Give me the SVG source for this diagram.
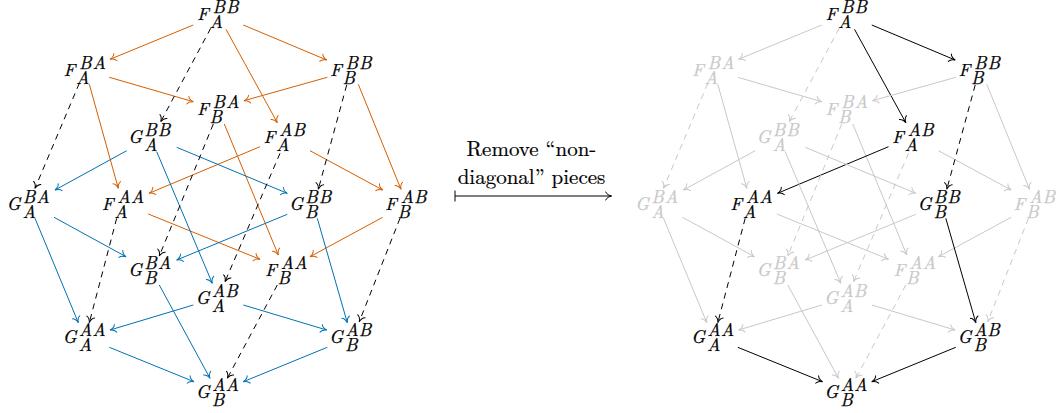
<svg xmlns="http://www.w3.org/2000/svg" width="1059" height="413" viewBox="0 0 1059 413">
<style>
.n{font-family:'Latin Modern Roman';font-style:italic;font-size:18px;fill:#000;stroke:#000;stroke-width:0.25}
.ng .n{fill:#c8c8c8;stroke:#c8c8c8}
.e{fill:none;stroke-width:1}
.o{stroke:#d55e00;marker-end:url(#mo)}
.b{stroke:#0072b2;marker-end:url(#mb)}
.k{stroke:#000;marker-end:url(#mk)}
.g{stroke:#c8c8c8;marker-end:url(#mg)}
.d{stroke-dasharray:6 5}
.lbl{font-family:'Latin Modern Roman';font-size:21px;fill:#000;stroke:#000;stroke-width:0.2;text-anchor:middle}
.tip{fill:none;stroke-width:1;stroke-linecap:round;stroke-dasharray:none}
</style>
<defs>
<marker id="mo" markerUnits="userSpaceOnUse" markerWidth="12" markerHeight="12" refX="0" refY="0" orient="auto" style="overflow:visible"><path class="tip" stroke="#d55e00" d="M-5.8,-4 C-5,-1.7 -1.9,-0.4 0,0 C-1.9,0.4 -5,1.7 -5.8,4"/></marker>
<marker id="mb" markerUnits="userSpaceOnUse" markerWidth="12" markerHeight="12" refX="0" refY="0" orient="auto" style="overflow:visible"><path class="tip" stroke="#0072b2" d="M-5.8,-4 C-5,-1.7 -1.9,-0.4 0,0 C-1.9,0.4 -5,1.7 -5.8,4"/></marker>
<marker id="mk" markerUnits="userSpaceOnUse" markerWidth="12" markerHeight="12" refX="0" refY="0" orient="auto" style="overflow:visible"><path class="tip" stroke="#000" d="M-5.8,-4 C-5,-1.7 -1.9,-0.4 0,0 C-1.9,0.4 -5,1.7 -5.8,4"/></marker>
<marker id="mg" markerUnits="userSpaceOnUse" markerWidth="12" markerHeight="12" refX="0" refY="0" orient="auto" style="overflow:visible"><path class="tip" stroke="#c8c8c8" d="M-5.8,-4 C-5,-1.7 -1.9,-0.4 0,0 C-1.9,0.4 -5,1.7 -5.8,4"/></marker>
</defs>

<!-- LEFT DIAGRAM -->
<g id="left-connectors">
<line class="e o" x1="193.3" y1="25" x2="110" y2="59.3"/>
<line class="e o" x1="243.3" y1="25" x2="326.7" y2="60"/>
<line class="e o" x1="226" y1="29.3" x2="277.3" y2="122.7"/>
<line class="e o" x1="109.3" y1="77.3" x2="193.3" y2="101.7"/>
<line class="e o" x1="89.3" y1="84.3" x2="118.3" y2="188.3"/>
<line class="e o" x1="327.3" y1="77.3" x2="244" y2="100.7"/>
<line class="e o" x1="358.3" y1="84.3" x2="401" y2="189.3"/>
<line class="e o" x1="224.3" y1="124" x2="278.3" y2="255"/>
<line class="e o" x1="260" y1="146.7" x2="149" y2="193.3"/>
<line class="e o" x1="310" y1="150.7" x2="382.7" y2="190"/>
<line class="e o" x1="148.3" y1="214" x2="260" y2="259.3"/>
<line class="e o" x1="382.7" y1="217.3" x2="310" y2="256.7"/>
<line class="e b" x1="126.7" y1="150.7" x2="55" y2="190"/>
<line class="e b" x1="176.7" y1="147.3" x2="287.3" y2="193.3"/>
<line class="e b" x1="156.7" y1="151.7" x2="212.3" y2="283.3"/>
<line class="e b" x1="54" y1="217.3" x2="126" y2="256.7"/>
<line class="e b" x1="35" y1="218.3" x2="78.3" y2="322.7"/>
<line class="e b" x1="287.3" y1="214.3" x2="176.7" y2="260"/>
<line class="e b" x1="317.3" y1="218.3" x2="347.3" y2="322.7"/>
<line class="e b" x1="159.3" y1="285" x2="210" y2="378.3"/>
<line class="e b" x1="193.3" y1="305" x2="110" y2="330"/>
<line class="e b" x1="243.3" y1="305" x2="326.7" y2="330"/>
<line class="e b" x1="109.3" y1="347.3" x2="194" y2="381.7"/>
<line class="e b" x1="327.3" y1="347.3" x2="243.3" y2="381.7"/>
<line class="e k d" x1="210.7" y1="28.3" x2="160.7" y2="121.7"/>
<line class="e k d" x1="79.3" y1="83.3" x2="35" y2="188.3"/>
<line class="e k d" x1="346.7" y1="85" x2="318.3" y2="189.3"/>
<line class="e k d" x1="213.3" y1="124" x2="159.3" y2="256"/>
<line class="e k d" x1="280" y1="153.3" x2="225" y2="281.7"/>
<line class="e k d" x1="116.7" y1="218.3" x2="89.3" y2="322.7"/>
<line class="e k d" x1="400" y1="218.3" x2="359.3" y2="321.7"/>
<line class="e k d" x1="277.3" y1="285" x2="227.3" y2="378.3"/>
</g>

<g id="L-FA-BB"><text class="n" x="197" y="20">F<tspan x="212.5 226" y="13.4">BB</tspan><tspan x="209.5" y="27.7">A</tspan></text></g>
<g id="L-FA-BA"><text class="n" x="63.5" y="76">F<tspan x="79 92.5" y="68.7">BA</tspan><tspan x="76" y="83.7">A</tspan></text></g>
<g id="L-FB-BB"><text class="n" x="330" y="76">F<tspan x="345.5 359" y="68.7">BB</tspan><tspan x="342.5" y="83.7">B</tspan></text></g>
<g id="L-FB-BA"><text class="n" x="197" y="115">F<tspan x="212.5 226" y="107.7">BA</tspan><tspan x="209.5" y="122.7">B</tspan></text></g>
<g id="L-GA-BB"><text class="n" x="128.3" y="143.3">G<tspan x="144.3 157.8" y="136">BB</tspan><tspan x="144" y="151">A</tspan></text></g>
<g id="L-FA-AB"><text class="n" x="263.5" y="143.3">F<tspan x="279 292.5" y="136">AB</tspan><tspan x="276" y="151">A</tspan></text></g>
<g id="L-GA-BA"><text class="n" x="6.7" y="210">G<tspan x="22.7 36.2" y="202.7">BA</tspan><tspan x="22.4" y="217.7">A</tspan></text></g>
<g id="L-FA-AA"><text class="n" x="101.7" y="210">F<tspan x="117.2 130.7" y="202.7">AA</tspan><tspan x="114.2" y="217.7">A</tspan></text></g>
<g id="L-GB-BB"><text class="n" x="289.3" y="210">G<tspan x="305.3 318.8" y="202.7">BB</tspan><tspan x="305" y="217.7">B</tspan></text></g>
<g id="L-FB-AB"><text class="n" x="385" y="210">F<tspan x="400.5 414" y="202.7">AB</tspan><tspan x="397.5" y="217.7">B</tspan></text></g>
<g id="L-GB-BA"><text class="n" x="128.3" y="276">G<tspan x="144.3 157.8" y="268.7">BA</tspan><tspan x="144" y="283.7">B</tspan></text></g>
<g id="L-FB-AA"><text class="n" x="265" y="276">F<tspan x="280.5 294" y="268.7">AA</tspan><tspan x="277.5" y="283.7">B</tspan></text></g>
<g id="L-GA-AB"><text class="n" x="195.7" y="304">G<tspan x="211.7 225.2" y="296.7">AB</tspan><tspan x="211.4" y="311.7">A</tspan></text></g>
<g id="L-GA-AA"><text class="n" x="62.7" y="343.3">G<tspan x="78.7 92.2" y="336">AA</tspan><tspan x="78.4" y="351">A</tspan></text></g>
<g id="L-GB-AB"><text class="n" x="329.3" y="343.3">G<tspan x="345.3 358.8" y="336">AB</tspan><tspan x="345" y="351">B</tspan></text></g>
<g id="L-GB-AA"><text class="n" x="196" y="398.3">G<tspan x="212 225.5" y="391">AA</tspan><tspan x="211.7" y="406">B</tspan></text></g>

<!-- MIDDLE -->
<g id="middle-label">
<text class="lbl" x="531.5" y="156">Remove “non-</text>
<text class="lbl" x="531.5" y="183.5">diagonal” pieces</text>
</g>
<g id="middle-arrow">
<line x1="455" y1="190.5" x2="455" y2="201.5" stroke="#000" stroke-width="1"/>
<line class="e k" x1="455" y1="196" x2="611.5" y2="196"/>
</g>

<!-- RIGHT DIAGRAM -->
<g transform="translate(628.5,0)">
<g id="right-connectors">
<line class="e g" x1="193.3" y1="25" x2="110" y2="59.3"/>
<line class="e k" x1="243.3" y1="25" x2="326.7" y2="60"/>
<line class="e k" x1="226" y1="29.3" x2="277.3" y2="122.7"/>
<line class="e g" x1="109.3" y1="77.3" x2="193.3" y2="101.7"/>
<line class="e g" x1="89.3" y1="84.3" x2="118.3" y2="188.3"/>
<line class="e g" x1="327.3" y1="77.3" x2="244" y2="100.7"/>
<line class="e g" x1="358.3" y1="84.3" x2="401" y2="189.3"/>
<line class="e g" x1="224.3" y1="124" x2="278.3" y2="255"/>
<line class="e k" x1="260" y1="146.7" x2="149" y2="193.3"/>
<line class="e g" x1="310" y1="150.7" x2="382.7" y2="190"/>
<line class="e g" x1="148.3" y1="214" x2="260" y2="259.3"/>
<line class="e g" x1="382.7" y1="217.3" x2="310" y2="256.7"/>
<line class="e g" x1="126.7" y1="150.7" x2="55" y2="190"/>
<line class="e g" x1="176.7" y1="147.3" x2="287.3" y2="193.3"/>
<line class="e g" x1="156.7" y1="151.7" x2="212.3" y2="283.3"/>
<line class="e g" x1="54" y1="217.3" x2="126" y2="256.7"/>
<line class="e g" x1="35" y1="218.3" x2="78.3" y2="322.7"/>
<line class="e g" x1="287.3" y1="214.3" x2="176.7" y2="260"/>
<line class="e k" x1="317.3" y1="218.3" x2="347.3" y2="322.7"/>
<line class="e g" x1="159.3" y1="285" x2="210" y2="378.3"/>
<line class="e g" x1="193.3" y1="305" x2="110" y2="330"/>
<line class="e g" x1="243.3" y1="305" x2="326.7" y2="330"/>
<line class="e k" x1="109.3" y1="347.3" x2="194" y2="381.7"/>
<line class="e k" x1="327.3" y1="347.3" x2="243.3" y2="381.7"/>
<line class="e g d" x1="210.7" y1="28.3" x2="160.7" y2="121.7"/>
<line class="e g d" x1="79.3" y1="83.3" x2="35" y2="188.3"/>
<line class="e k d" x1="346.7" y1="85" x2="318.3" y2="189.3"/>
<line class="e g d" x1="213.3" y1="124" x2="159.3" y2="256"/>
<line class="e g d" x1="280" y1="153.3" x2="225" y2="281.7"/>
<line class="e k d" x1="116.7" y1="218.3" x2="89.3" y2="322.7"/>
<line class="e g d" x1="400" y1="218.3" x2="359.3" y2="321.7"/>
<line class="e g d" x1="277.3" y1="285" x2="227.3" y2="378.3"/>
</g>

<g id="R-FA-BB"><text class="n" x="197" y="20">F<tspan x="212.5 226" y="13.4">BB</tspan><tspan x="209.5" y="27.7">A</tspan></text></g>
<g id="R-FA-BA" class="ng"><text class="n" x="63.5" y="76">F<tspan x="79 92.5" y="68.7">BA</tspan><tspan x="76" y="83.7">A</tspan></text></g>
<g id="R-FB-BB"><text class="n" x="330" y="76">F<tspan x="345.5 359" y="68.7">BB</tspan><tspan x="342.5" y="83.7">B</tspan></text></g>
<g id="R-FB-BA" class="ng"><text class="n" x="197" y="115">F<tspan x="212.5 226" y="107.7">BA</tspan><tspan x="209.5" y="122.7">B</tspan></text></g>
<g id="R-GA-BB" class="ng"><text class="n" x="128.3" y="143.3">G<tspan x="144.3 157.8" y="136">BB</tspan><tspan x="144" y="151">A</tspan></text></g>
<g id="R-FA-AB"><text class="n" x="263.5" y="143.3">F<tspan x="279 292.5" y="136">AB</tspan><tspan x="276" y="151">A</tspan></text></g>
<g id="R-GA-BA" class="ng"><text class="n" x="6.7" y="210">G<tspan x="22.7 36.2" y="202.7">BA</tspan><tspan x="22.4" y="217.7">A</tspan></text></g>
<g id="R-FA-AA"><text class="n" x="101.7" y="210">F<tspan x="117.2 130.7" y="202.7">AA</tspan><tspan x="114.2" y="217.7">A</tspan></text></g>
<g id="R-GB-BB"><text class="n" x="289.3" y="210">G<tspan x="305.3 318.8" y="202.7">BB</tspan><tspan x="305" y="217.7">B</tspan></text></g>
<g id="R-FB-AB" class="ng"><text class="n" x="385" y="210">F<tspan x="400.5 414" y="202.7">AB</tspan><tspan x="397.5" y="217.7">B</tspan></text></g>
<g id="R-GB-BA" class="ng"><text class="n" x="128.3" y="276">G<tspan x="144.3 157.8" y="268.7">BA</tspan><tspan x="144" y="283.7">B</tspan></text></g>
<g id="R-FB-AA" class="ng"><text class="n" x="265" y="276">F<tspan x="280.5 294" y="268.7">AA</tspan><tspan x="277.5" y="283.7">B</tspan></text></g>
<g id="R-GA-AB" class="ng"><text class="n" x="195.7" y="304">G<tspan x="211.7 225.2" y="296.7">AB</tspan><tspan x="211.4" y="311.7">A</tspan></text></g>
<g id="R-GA-AA"><text class="n" x="62.7" y="343.3">G<tspan x="78.7 92.2" y="336">AA</tspan><tspan x="78.4" y="351">A</tspan></text></g>
<g id="R-GB-AB"><text class="n" x="329.3" y="343.3">G<tspan x="345.3 358.8" y="336">AB</tspan><tspan x="345" y="351">B</tspan></text></g>
<g id="R-GB-AA"><text class="n" x="196" y="398.3">G<tspan x="212 225.5" y="391">AA</tspan><tspan x="211.7" y="406">B</tspan></text></g>
</g>
</svg>
